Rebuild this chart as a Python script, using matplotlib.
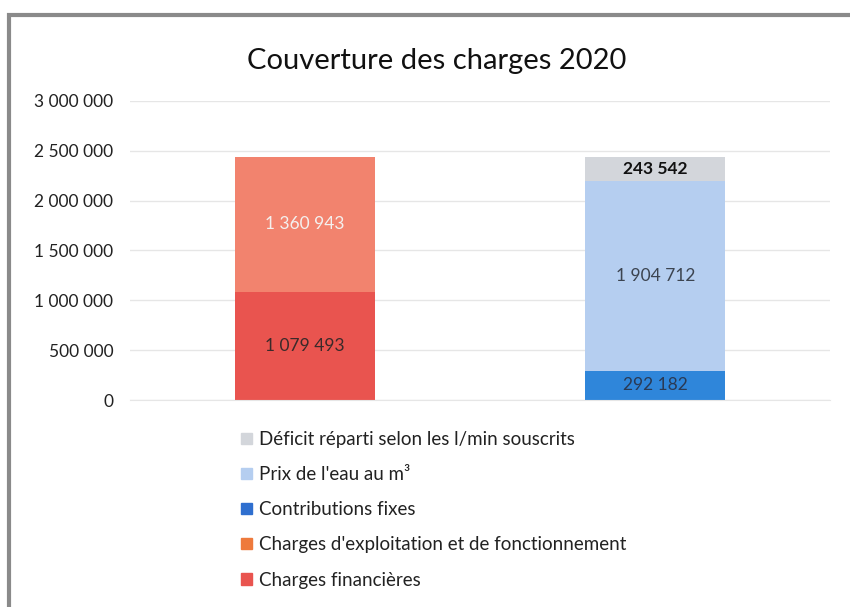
import matplotlib
matplotlib.use("Agg")
import matplotlib.pyplot as plt
from matplotlib.patches import Rectangle

plt.rcParams['font.family'] = ['Lato', 'DejaVu Sans']

# data
positions = [0, 1]
series_names = [
    "Charges financières",
    "Charges d'exploitation et de fonctionnement",
    "Contributions fixes",
    "Prix de l'eau au m³",
    "Déficit réparti selon les l/min souscrits",
]
charges_financieres = [1079493, 0]
charges_exploitation = [1360943, 0]
contributions_fixes = [0, 292182]
prix_eau = [0, 1904712]
deficit = [0, 243542]
y_ticks = [0, 500000, 1000000, 1500000, 2000000, 2500000, 3000000]

colors = ["#E9544F", "#F2836E", "#2F86DA", "#B5CEF0", "#D3D6DB"]
label_colors = ["#3a2a2a", "#f4f0ee", "#2a3a55", "#3c4450", "#111111"]
label_weights = ["normal", "normal", "normal", "normal", "bold"]
legend_colors = ["#E9544F", "#EE7A3C", "#2F6FCF", "#B5CEF0", "#D3D6DB"]

fig = plt.figure(figsize=(8.5, 6.07), dpi=100)
fig.patch.set_facecolor("white")

# scanned frame
fig.patches.append(Rectangle((0.01, -0.05), 1.2, 1.025, transform=fig.transFigure,
                             fill=False, edgecolor="#8a8a8a", linewidth=3))

ax = fig.add_axes([0.153, 0.341, 0.824, 0.493])

stacks = [charges_financieres, charges_exploitation, contributions_fixes, prix_eau, deficit]
bottoms = [0, 0]
for i, vals in enumerate(stacks):
    ax.bar(positions, vals, width=0.4, bottom=bottoms, color=colors[i], zorder=2)
    for p, v, b in zip(positions, vals, bottoms):
        if v > 0:
            txt = f"{v:,}".replace(",", " ")
            ax.text(p, b + v / 2, txt, ha="center", va="center", fontsize=12.5,
                    color=label_colors[i], fontweight=label_weights[i], zorder=3)
    bottoms = [b + v for b, v in zip(bottoms, vals)]

ax.set_xlim(-0.5, 1.5)
ax.set_ylim(0, 3000000)
ax.set_yticks(y_ticks)
ax.set_yticklabels([f"{t:,}".replace(",", " ") for t in y_ticks], fontsize=12.5, color="#222222")
ax.set_xticks([])
ax.tick_params(axis="y", length=0, pad=12)
ax.grid(axis="y", color="#e6e6e6", linewidth=1, zorder=0)
for s in ["top", "right", "left"]:
    ax.spines[s].set_visible(False)
ax.spines["bottom"].set_color("#e6e6e6")

fig.text(0.514, 0.9, "Couverture des charges 2020", ha="center", va="center",
         fontsize=21, color="#111111")

# legend, drawn top to bottom in reverse stack order
handles = [Rectangle((0, 0), 1, 1, color=legend_colors[i]) for i in range(5)][::-1]
leg = fig.legend(handles, series_names[::-1], loc="upper left",
                 bbox_to_anchor=(0.264, 0.318), frameon=False, fontsize=13.5,
                 handlelength=0.55, handleheight=0.55, handletextpad=0.4,
                 labelspacing=0.97)
for t in leg.get_texts():
    t.set_color("#222222")

fig.savefig("out.png", dpi=100, facecolor="white")
